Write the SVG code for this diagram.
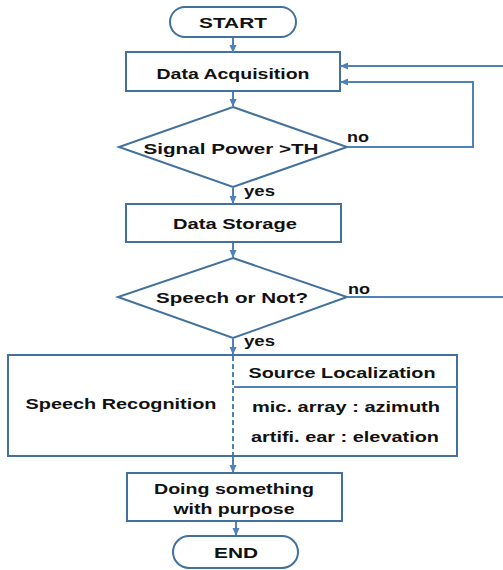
<svg xmlns="http://www.w3.org/2000/svg" width="503" height="570" viewBox="0 0 503 570">
<style>
.box{fill:#fff;stroke:#41719c;stroke-width:2}
.ln{fill:none;stroke:#4f81bd;stroke-width:2}
.t{font-family:"Liberation Sans",Arial,sans-serif;font-size:15.5px;font-weight:bold;fill:#111}
.m{text-anchor:middle}
</style>
<defs>
<marker id="ar" markerWidth="8" markerHeight="8" refX="7" refY="4" orient="auto" markerUnits="userSpaceOnUse">
<path d="M0,0.5 L8,4 L0,7.5 Z" fill="#4f81bd"/>
</marker>
</defs>
<rect width="503" height="570" fill="#fff"/>
<g id="start">
<rect class="box" x="170" y="7" width="126" height="30" rx="15"/>
<text class="t m" x="233" y="28" textLength="68" lengthAdjust="spacingAndGlyphs">START</text>
</g>
<g id="acq">
<rect class="box" x="126" y="52" width="214" height="39"/>
<text class="t m" x="233" y="79" textLength="153" lengthAdjust="spacingAndGlyphs">Data Acquisition</text>
</g>
<g id="power">
<polygon class="box" points="233,107 347,147 233,187 119,147"/>
<text class="t m" x="231" y="154" textLength="175" lengthAdjust="spacingAndGlyphs">Signal Power &gt;TH</text>
</g>
<g id="storage">
<rect class="box" x="126" y="204" width="215" height="38"/>
<text class="t m" x="235" y="229" textLength="124" lengthAdjust="spacingAndGlyphs">Data Storage</text>
</g>
<g id="speech">
<polygon class="box" points="233,258 347,297 233,338 118,297"/>
<text class="t m" x="232" y="303" textLength="152" lengthAdjust="spacingAndGlyphs">Speech or Not?</text>
</g>
<g id="process">
<rect class="box" x="8" y="355" width="449" height="101"/>
<path d="M234,387 H457" fill="none" stroke="#4f81bd" stroke-width="2"/>
<text class="t m" x="121" y="409" textLength="191" lengthAdjust="spacingAndGlyphs">Speech Recognition</text>
<text class="t m" x="342" y="378" textLength="187" lengthAdjust="spacingAndGlyphs">Source Localization</text>
<text class="t" x="252" y="412" textLength="188" lengthAdjust="spacingAndGlyphs">mic. array : azimuth</text>
<text class="t" x="251" y="442" textLength="188" lengthAdjust="spacingAndGlyphs">artifi. ear : elevation</text>
</g>
<g id="doing">
<rect class="box" x="127" y="473" width="215" height="48"/>
<text class="t m" x="234" y="494" textLength="160" lengthAdjust="spacingAndGlyphs">Doing something</text>
<text class="t m" x="234" y="514" textLength="121" lengthAdjust="spacingAndGlyphs">with purpose</text>
</g>
<g id="end">
<rect class="box" x="173" y="536" width="125" height="32" rx="16"/>
<text class="t m" x="236" y="558" textLength="44" lengthAdjust="spacingAndGlyphs">END</text>
</g>
<g id="connectors">
<path class="ln" d="M233,38 V52" marker-end="url(#ar)"/>
<path class="ln" d="M233,92 V106" marker-end="url(#ar)"/>
<path class="ln" d="M233,188 V203" marker-end="url(#ar)"/>
<path class="ln" d="M233,243 V257" marker-end="url(#ar)"/>
<path class="ln" d="M233,339 V354" marker-end="url(#ar)"/>
<path class="ln" d="M347,147 H473 V82 H341" marker-end="url(#ar)"/>
<path class="ln" d="M503,66 H341" marker-end="url(#ar)"/>
<path class="ln" d="M347,297 H503"/>
<path class="ln" d="M233,356 V455" stroke-dasharray="5,3"/>
<path class="ln" d="M233,457 V472" marker-end="url(#ar)"/>
<path class="ln" d="M236,522 V535" marker-end="url(#ar)"/>
<text class="t" x="347" y="142" textLength="22" lengthAdjust="spacingAndGlyphs">no</text>
<text class="t" x="244" y="196" textLength="31" lengthAdjust="spacingAndGlyphs">yes</text>
<text class="t" x="348" y="294" textLength="22" lengthAdjust="spacingAndGlyphs">no</text>
<text class="t" x="244" y="346" textLength="31" lengthAdjust="spacingAndGlyphs">yes</text>
</g>
</svg>
